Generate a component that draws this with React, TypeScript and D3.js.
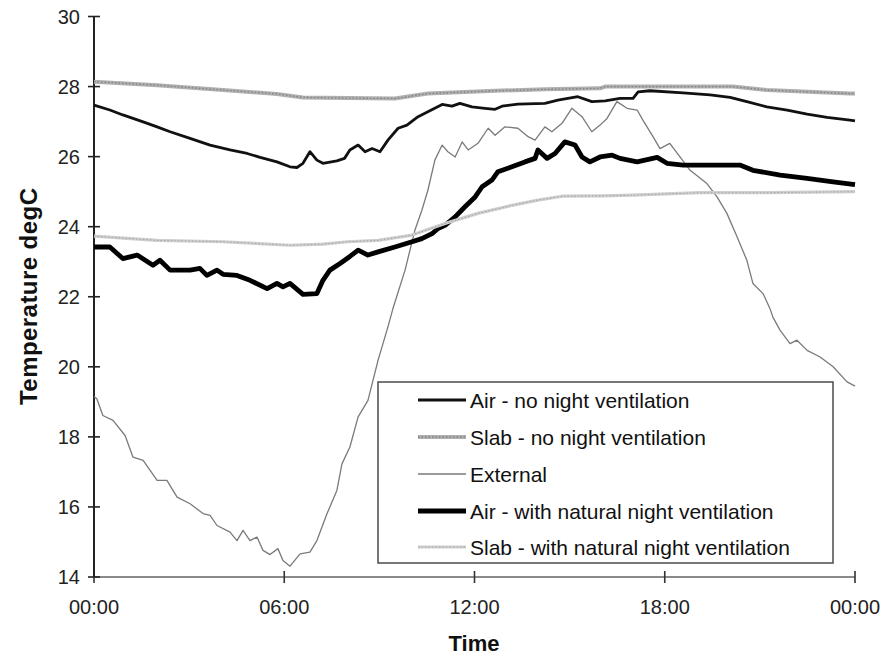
import React from "react";
import * as d3 from "d3";

const xTickLabels = ["00:00", "06:00", "12:00", "18:00", "00:00"];
const xTickHours = [0, 6, 12, 18, 24];
const yTicks = [14, 16, 18, 20, 22, 24, 26, 28, 30];

const seriesNames = [
  "Air - no night ventilation",
  "Slab - no night ventilation",
  "External",
  "Air - with natural night ventilation",
  "Slab - with natural night ventilation",
];

const airNoVentHours = [0, 0.5, 0.91, 1.55, 1.99, 2.4, 3.03, 3.66, 4.29, 4.83, 5.24, 5.77, 6.18, 6.4, 6.59, 6.81, 7.03, 7.22, 7.66, 7.9, 8.07, 8.33, 8.55, 8.77, 9.02, 9.27, 9.59, 9.87, 10.22, 10.53, 10.98, 11.29, 11.54, 11.92, 12.33, 12.65, 12.87, 13.37, 14.22, 14.63, 15.26, 15.7, 16.12, 16.59, 17.0, 17.16, 17.53, 18.58, 19.43, 20.06, 20.59, 21.22, 21.86, 22.49, 23.12, 23.84, 24];
const airNoVentTemps = [27.47, 27.33, 27.19, 26.99, 26.85, 26.71, 26.52, 26.33, 26.19, 26.09, 25.98, 25.85, 25.71, 25.69, 25.81, 26.14, 25.9, 25.81, 25.88, 25.95, 26.19, 26.33, 26.14, 26.23, 26.14, 26.47, 26.81, 26.9, 27.14, 27.28, 27.49, 27.44, 27.52, 27.42, 27.38, 27.35, 27.44, 27.5, 27.52, 27.61, 27.71, 27.57, 27.59, 27.66, 27.66, 27.85, 27.88, 27.82, 27.76, 27.69, 27.57, 27.42, 27.33, 27.21, 27.12, 27.04, 27.02];

const slabNoVentHours = [0, 1.99, 4.07, 5.77, 6.59, 8.0, 9.49, 10.53, 12.65, 14.22, 15.96, 16.12, 18.07, 20.15, 21.22, 23.84, 24];
const slabNoVentTemps = [28.14, 28.04, 27.9, 27.79, 27.69, 27.67, 27.66, 27.8, 27.88, 27.92, 27.95, 28.0, 28.0, 28.0, 27.9, 27.8, 27.8];

const externalHours = [0, 0.09, 0.28, 0.6, 0.98, 1.23, 1.55, 1.99, 2.3, 2.62, 3.03, 3.44, 3.66, 3.88, 4.29, 4.51, 4.7, 4.92, 5.14, 5.33, 5.55, 5.8, 5.96, 6.18, 6.5, 6.81, 7.03, 7.35, 7.66, 7.82, 8.07, 8.33, 8.64, 8.96, 9.27, 9.43, 9.81, 10.12, 10.34, 10.53, 10.75, 10.98, 11.16, 11.39, 11.61, 11.8, 12.11, 12.43, 12.65, 12.96, 13.37, 13.69, 13.91, 14.22, 14.44, 14.76, 15.07, 15.39, 15.7, 15.96, 16.18, 16.49, 16.81, 17.13, 17.31, 17.63, 17.85, 18.16, 18.48, 18.8, 19.33, 19.65, 19.96, 20.28, 20.59, 20.78, 21.1, 21.32, 21.41, 21.64, 21.95, 22.17, 22.49, 22.9, 23.31, 23.75, 24];
const externalTemps = [19.15, 19.09, 18.61, 18.47, 18.04, 17.42, 17.33, 16.76, 16.76, 16.28, 16.09, 15.81, 15.76, 15.47, 15.28, 15.04, 15.33, 15.04, 15.14, 14.76, 14.64, 14.81, 14.47, 14.31, 14.66, 14.71, 15.04, 15.81, 16.47, 17.23, 17.71, 18.57, 19.04, 20.19, 21.14, 21.67, 22.76, 23.9, 24.47, 25.04, 25.9, 26.33, 26.14, 25.99, 26.42, 26.19, 26.38, 26.81, 26.61, 26.85, 26.81, 26.57, 26.47, 26.85, 26.71, 26.95, 27.38, 27.14, 26.71, 26.9, 27.09, 27.57, 27.38, 27.33, 27.04, 26.57, 26.23, 26.38, 25.99, 25.61, 25.23, 24.85, 24.38, 23.71, 23.04, 22.38, 22.09, 21.66, 21.42, 21.04, 20.66, 20.76, 20.47, 20.28, 20.0, 19.57, 19.45];

const airVentHours = [0, 0.5, 0.91, 1.36, 1.86, 2.08, 2.4, 3.03, 3.34, 3.56, 3.88, 4.07, 4.51, 4.92, 5.46, 5.77, 5.96, 6.18, 6.59, 7.03, 7.22, 7.44, 7.76, 8.07, 8.33, 8.64, 8.96, 9.49, 10.03, 10.34, 10.66, 10.85, 11.07, 11.39, 11.7, 12.02, 12.24, 12.55, 12.74, 13.18, 13.59, 13.91, 14.0, 14.29, 14.54, 14.85, 15.17, 15.39, 15.64, 15.96, 16.34, 16.59, 17.13, 17.76, 18.07, 18.58, 20.37, 20.78, 21.64, 22.49, 23.31, 24];
const airVentTemps = [23.42, 23.42, 23.09, 23.19, 22.9, 23.04, 22.76, 22.76, 22.81, 22.61, 22.76, 22.64, 22.61, 22.47, 22.23, 22.38, 22.28, 22.38, 22.07, 22.09, 22.47, 22.76, 22.95, 23.15, 23.33, 23.19, 23.28, 23.42, 23.57, 23.66, 23.8, 23.95, 24.04, 24.28, 24.57, 24.85, 25.14, 25.33, 25.57, 25.71, 25.85, 25.95, 26.19, 25.95, 26.09, 26.42, 26.33, 25.99, 25.85, 25.99, 26.04, 25.95, 25.85, 25.98, 25.81, 25.76, 25.76, 25.61, 25.47, 25.38, 25.28, 25.2];

const slabVentHours = [0, 1.99, 4.07, 6.18, 7.22, 8.0, 8.96, 10.03, 11.07, 12.11, 13.18, 14.0, 14.76, 16.0, 17.0, 19.1, 21.2, 24];
const slabVentTemps = [23.73, 23.61, 23.57, 23.47, 23.5, 23.57, 23.61, 23.76, 24.09, 24.38, 24.61, 24.76, 24.87, 24.88, 24.9, 24.97, 24.97, 25.0];

type Style = { color: string; width: number; overlay?: string; overlayWidth?: number };
const styles: Style[] = [
  { color: "#111", width: 2.8 },
  { color: "#b0b0b0", width: 4, overlay: "#808080", overlayWidth: 1.3 },
  { color: "#7a7a7a", width: 1.3 },
  { color: "#000", width: 4.8 },
  { color: "#cfcfcf", width: 3.2, overlay: "#a6a6a6", overlayWidth: 1.1 },
];

export default function App() {
  const W = 891, H = 655;
  const x = d3.scaleLinear().domain([0, 24]).range([94, 855]);
  const y = d3.scaleLinear().domain([14, 30]).range([577, 16.5]);
  const line = d3
    .line<[number, number]>()
    .x((d) => x(d[0]))
    .y((d) => y(d[1]));
  const zip = (h: number[], t: number[]) => h.map((v, i) => [v, t[i]] as [number, number]);
  const series = [
    zip(airNoVentHours, airNoVentTemps),
    zip(slabNoVentHours, slabNoVentTemps),
    zip(externalHours, externalTemps),
    zip(airVentHours, airVentTemps),
    zip(slabVentHours, slabVentTemps),
  ];
  const font = "'Liberation Sans', Arial, sans-serif";
  const legX = 378, legY = 382, legW = 455, legH = 181;
  const rowY = [400, 437, 474, 511, 547];

  return (
    <svg width={W} height={H} style={{ position: "absolute", left: 0, top: 0, background: "#fff" }}>
      {/* x axis */}
      <line x1={x(0)} x2={x(24)} y1={y(14)} y2={y(14)} stroke="#8a8a8a" strokeWidth={2.2} />
      {xTickHours.map((h, i) => (
        <g key={"xt" + i}>
          <line x1={x(h)} x2={x(h)} y1={y(14) - 6} y2={y(14) + 6} stroke="#333" strokeWidth={1.6} />
          <text x={x(h)} y={614} textAnchor="middle" fontFamily={font} fontSize={20} fill="#222">
            {xTickLabels[i]}
          </text>
        </g>
      ))}
      {/* y axis */}
      <line x1={x(0)} x2={x(0)} y1={y(30)} y2={y(14)} stroke="#222" strokeWidth={2} />
      {yTicks.map((t) => (
        <g key={"yt" + t}>
          <line x1={x(0) - 6} x2={x(0) + 6} y1={y(t)} y2={y(t)} stroke="#222" strokeWidth={1.6} />
          <text x={80} y={y(t) + 7} textAnchor="end" fontFamily={font} fontSize={20} fill="#222">
            {t}
          </text>
        </g>
      ))}
      {/* series */}
      {series.map((s, i) => (
        <g key={"s" + i}>
          <path d={line(s) || ""} fill="none" stroke={styles[i].color} strokeWidth={styles[i].width} strokeLinejoin="round" />
          {styles[i].overlay && (
            <path d={line(s) || ""} fill="none" stroke={styles[i].overlay} strokeWidth={styles[i].overlayWidth} strokeDasharray="1.5,2" />
          )}
        </g>
      ))}
      {/* legend */}
      <rect x={legX} y={legY} width={legW} height={legH} fill="#fff" stroke="#555" strokeWidth={1.6} />
      {seriesNames.map((n, i) => (
        <g key={"lg" + i}>
          <line x1={418} x2={466} y1={rowY[i]} y2={rowY[i]} stroke={styles[i].color} strokeWidth={styles[i].width} />
          {styles[i].overlay && (
            <line x1={418} x2={466} y1={rowY[i]} y2={rowY[i]} stroke={styles[i].overlay} strokeWidth={styles[i].overlayWidth} strokeDasharray="1.5,2" />
          )}
          <text x={470} y={rowY[i] + 7.5} fontFamily={font} fontSize={21} fill="#111">
            {n}
          </text>
        </g>
      ))}
      {/* axis titles */}
      <text x={474} y={651} textAnchor="middle" fontFamily={font} fontSize={22} fontWeight="bold" fill="#111">
        Time
      </text>
      <text
        transform={`translate(37, 296.5) rotate(-90)`}
        textAnchor="middle"
        fontFamily={font}
        fontSize={24}
        fontWeight="bold"
        fill="#111"
        textLength={217}
      >
        Temperature degC
      </text>
    </svg>
  );
}
